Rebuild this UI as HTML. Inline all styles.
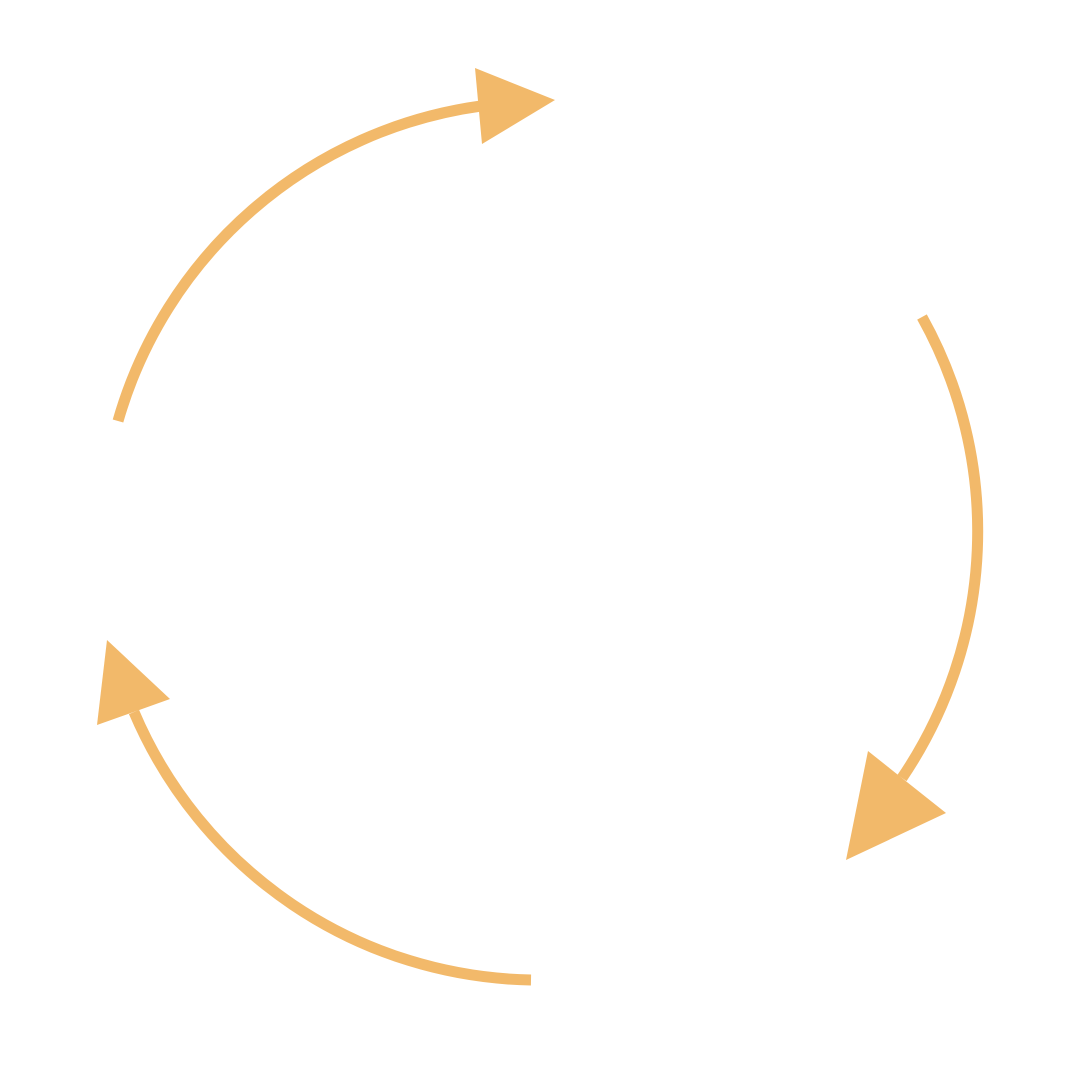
<!DOCTYPE html>
<html><head><meta charset="utf-8"><style>
html,body{margin:0;padding:0;background:#fff;width:1080px;height:1080px;overflow:hidden}
svg{display:block}
</style></head><body>
<svg width="1080" height="1080" viewBox="0 0 1080 1080" xmlns="http://www.w3.org/2000/svg">
<rect width="1080" height="1080" fill="#fff"/>
<g fill="none" stroke="#F2B96A" stroke-width="11">
<path d="M118,421 A440,440 0 0 1 481,106"/>
<path d="M922,317 A440,440 0 0 1 902,778"/>
<path d="M531,980 A440,440 0 0 1 134,712"/>
</g>
<g fill="#F2B96A">
<polygon points="475,68 555,100 482,144"/>
<polygon points="868,751 946,813 846,860"/>
<polygon points="107,640 170,699 97,725"/>
</g>
</svg>
</body></html>
